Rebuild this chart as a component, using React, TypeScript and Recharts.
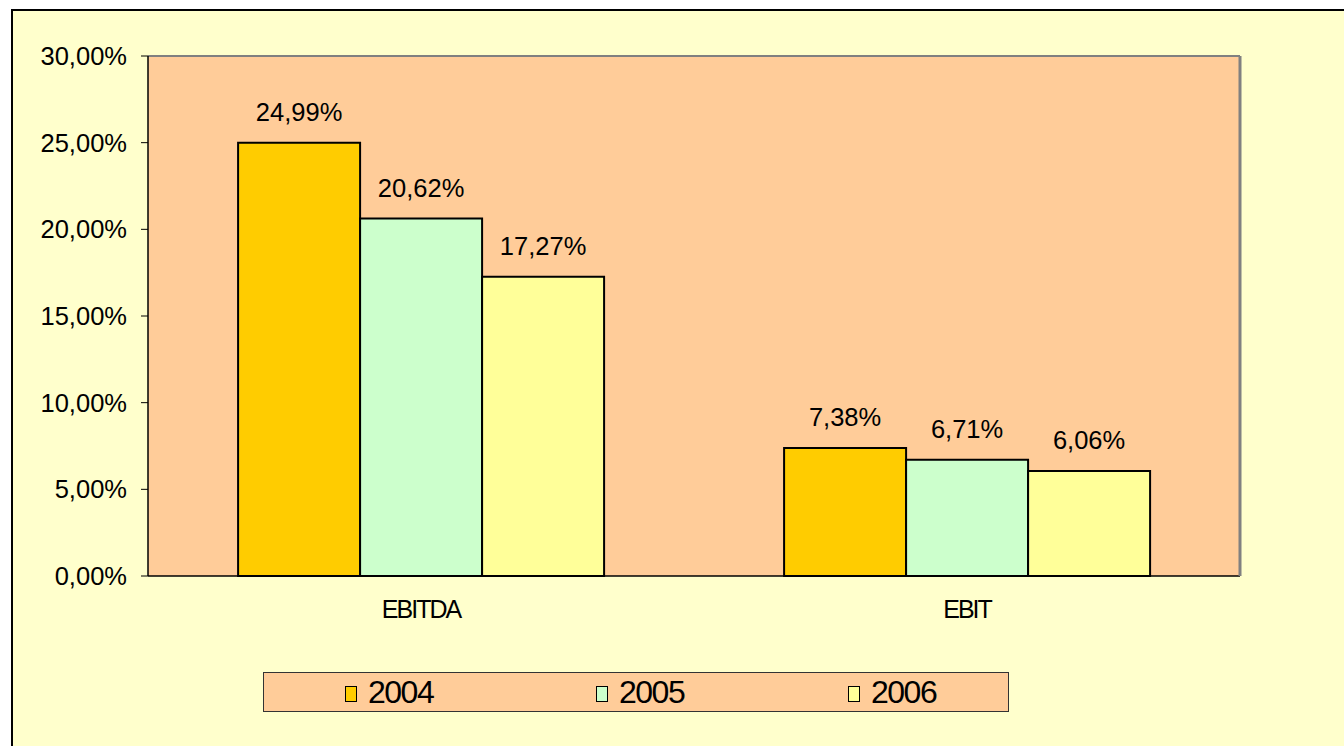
import React from "react";
import {
  Bar,
  BarChart,
  CartesianGrid,
  LabelList,
  XAxis,
  YAxis,
} from "recharts";

const categories = ["EBITDA", "EBIT"];
const years = ["2004", "2005", "2006"];
const values2004 = [24.99, 7.38];
const values2005 = [20.62, 6.71];
const values2006 = [17.27, 6.06];
const yTicks = [0, 5, 10, 15, 20, 25, 30];
const boundaryTicks = [0, 1, 2];

const colors = ["#FFCC00", "#CCFFCC", "#FFFF99"];
const FONT = "'Liberation Sans', Arial, sans-serif";

const data = categories.map((name, i) => ({
  name,
  y2004: values2004[i],
  y2005: values2005[i],
  y2006: values2006[i],
}));

const fmt = (v: number) => v.toFixed(2).replace(".", ",") + "%";

export default function App() {
  return (
    <div
      style={{
        position: "absolute",
        left: 0,
        top: 0,
        width: 1344,
        height: 746,
        overflow: "hidden",
        background: "#fff",
        fontFamily: FONT,
      }}
    >
      {/* outer chart frame */}
      <div
        style={{
          position: "absolute",
          left: 11,
          top: 9,
          width: 1400,
          height: 800,
          background: "#FFFFCC",
          border: "2px solid #000",
        }}
      />
      <div style={{ position: "absolute", left: 0, top: 0 }}>
        <BarChart
          width={1344}
          height={746}
          data={data}
          margin={{ top: 0, right: 0, left: 0, bottom: 130 }}
          barCategoryGap="16.5%"
          barGap={0}
        >
          <CartesianGrid
            xAxisId="cat"
            yAxisId="left"
            horizontal={false}
            vertical={false}
            fill="#FFCC99"
            fillOpacity={1}
          />
          <XAxis
            xAxisId="top"
            orientation="top"
            height={56}
            tick={false}
            tickLine={false}
            axisLine={{ stroke: "#808080", strokeWidth: 2 }}
          />
          <XAxis
            xAxisId="bounds"
            type="number"
            domain={[0, 2]}
            ticks={boundaryTicks}
            height={0}
            tickSize={7}
            tick={() => <g />}
            tickLine={{ stroke: "#000" }}
            axisLine={false}
          />
          <XAxis
            xAxisId="cat"
            dataKey="name"
            height={40}
            tickLine={false}
            axisLine={{ stroke: "#000", strokeWidth: 1.5 }}
            tick={{ fill: "#000", fontSize: 25, fontFamily: FONT, letterSpacing: -2 }}
            tickMargin={18}
          />
          <YAxis
            yAxisId="left"
            width={148}
            domain={[0, 30]}
            ticks={yTicks}
            tickFormatter={fmt}
            tickSize={7}
            tickMargin={14}
            tickLine={{ stroke: "#000" }}
            axisLine={{ stroke: "#000", strokeWidth: 1.5 }}
            tick={{ fill: "#000", fontSize: 25.5, fontFamily: FONT }}
          />
          <YAxis
            yAxisId="right"
            orientation="right"
            width={104}
            tick={false}
            tickLine={false}
            axisLine={{ stroke: "#808080", strokeWidth: 3 }}
          />
          {["y2004", "y2005", "y2006"].map((key, i) => (
            <Bar
              key={key}
              xAxisId="cat"
              yAxisId="left"
              dataKey={key}
              name={years[i]}
              fill={colors[i]}
              stroke="#000"
              strokeWidth={2}
              isAnimationActive={false}
            >
              <LabelList
                dataKey={key}
                position="top"
                offset={22}
                formatter={(v: number) => fmt(v)}
                style={{ fill: "#000", fontSize: 25.5, fontFamily: FONT }}
              />
            </Bar>
          ))}
        </BarChart>
      </div>
      {/* legend */}
      <div
        style={{
          position: "absolute",
          left: 263,
          top: 672,
          width: 744,
          height: 38,
          background: "#FFCC99",
          border: "1px solid #333",
        }}
      >
        {years.map((y, i) => (
          <div
            key={y}
            style={{
              position: "absolute",
              left: [81, 332, 584][i],
              top: 0,
              height: 38,
              display: "flex",
              alignItems: "center",
            }}
          >
            <span
              style={{
                display: "inline-block",
                width: 10,
                height: 14,
                background: colors[i],
                border: "1.5px solid #000",
                marginRight: 11,
                marginTop: 3,
              }}
            />
            <span style={{ fontSize: 32, color: "#000", letterSpacing: -1.5, lineHeight: "38px" }}>
              {y}
            </span>
          </div>
        ))}
      </div>
    </div>
  );
}
